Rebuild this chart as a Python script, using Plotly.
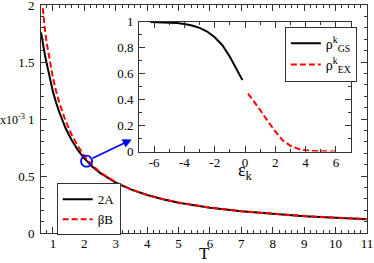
import plotly.graph_objects as go

# ---- main panel data ----
T_vals = [0.62, 0.66, 0.7, 0.75, 0.8, 0.9, 1.0, 1.1, 1.2, 1.4, 1.6, 1.8, 2.0, 2.25, 2.5,
          3.0, 3.5, 4.0, 4.5, 5.0, 6.0, 7.0, 8.0, 9.0, 10.0, 11.0]
two_A = [1.76, 1.69, 1.63, 1.553, 1.49, 1.355, 1.24, 1.145, 1.063, 0.921, 0.8125, 0.725,
         0.655, 0.584, 0.528, 0.442, 0.38, 0.333, 0.296, 0.266, 0.222, 0.19, 0.166,
         0.148, 0.133, 0.121]
beta_B = [2.13, 2.0, 1.89, 1.77, 1.67, 1.50, 1.36, 1.245, 1.145, 0.985, 0.86, 0.76,
          0.675, 0.594, 0.533, 0.445, 0.381, 0.334, 0.297, 0.267, 0.223, 0.191, 0.167,
          0.149, 0.134, 0.122]
marker_T = [2.07]
marker_val = [0.63]

# ---- inset data ----
eps_gs = [-6.25, -5.5, -5.0, -4.5, -4.0, -3.5, -3.0, -2.5, -2.0, -1.5, -1.0, -0.5, -0.17]
rho_gs = [0.998, 0.996, 0.993, 0.989, 0.982, 0.97, 0.952, 0.924, 0.88, 0.82, 0.73, 0.62, 0.55]
eps_ex = [0.2, 0.5, 1.0, 1.5, 2.0, 2.5, 3.0, 3.5, 4.0, 4.5, 5.0, 5.5, 6.1]
rho_ex = [0.446, 0.40, 0.32, 0.235, 0.155, 0.085, 0.045, 0.022, 0.01, 0.005, 0.002, 0.001, 0.0]

main_xticks = [1, 2, 3, 4, 5, 6, 7, 8, 9, 10, 11]
inset_xticks = [-6, -4, -2, 0, 2, 4, 6]
inset_xticktext = ["-6", "-4", "-2", "0", "2", "4", "6"]

FONT = "Liberation Serif"
AX = "#333333"

fig = go.Figure()
fig.add_trace(go.Scatter(x=T_vals, y=two_A, mode="lines", name="2A",
                         line=dict(color="black", width=2), legend="legend"))
fig.add_trace(go.Scatter(x=T_vals, y=beta_B, mode="lines", name="βB",
                         line=dict(color="#ff0000", width=2, dash="6px,3px"), legend="legend"))
fig.add_trace(go.Scatter(x=marker_T, y=marker_val, mode="markers", showlegend=False,
                         marker=dict(size=11, color="rgba(0,0,0,0)",
                                     line=dict(color="#0000ff", width=1.8))))
fig.add_trace(go.Scatter(x=eps_gs, y=rho_gs, mode="lines", name="ρ<sup>k</sup><sub>GS</sub>",
                         line=dict(color="black", width=2), xaxis="x2", yaxis="y2",
                         legend="legend2"))
fig.add_trace(go.Scatter(x=eps_ex, y=rho_ex, mode="lines", name="ρ<sup>k</sup><sub>EX</sub>",
                         line=dict(color="#ff0000", width=2, dash="6px,3px"), xaxis="x2",
                         yaxis="y2", legend="legend2"))

common = dict(showline=True, linecolor=AX, linewidth=1, mirror="allticks", ticks="inside",
              tickcolor=AX, ticklen=6, showgrid=False, zeroline=False, automargin=False,
              ticklabeloverflow="allow",
              tickfont=dict(family=FONT, size=13, color="black"))

fig.update_layout(
    width=374, height=263,
    margin=dict(l=41, r=7, t=5, b=30, autoexpand=False),
    paper_bgcolor="white", plot_bgcolor="white",
    font=dict(family=FONT, color="black"),
    xaxis=dict(range=[0.62, 11], tickvals=main_xticks, domain=[0, 1],
               minor=dict(dtick=0.2, tick0=0, ticks="inside", ticklen=3, tickcolor=AX),
               ticklabelstandoff=-2, **common),
    yaxis=dict(range=[0, 2], dtick=0.5, domain=[0, 1],
               minor=dict(dtick=0.1, tick0=0, ticks="inside", ticklen=3, tickcolor=AX),
               ticklabelstandoff=3, **common),
    xaxis2=dict(range=[-7, 7], tickvals=inset_xticks, ticktext=inset_xticktext,
                domain=[0.3006, 0.951], anchor="y2",
                minor=dict(dtick=1, tick0=0, ticks="inside", ticklen=3, tickcolor=AX),
                ticklabelstandoff=-1, **common),
    yaxis2=dict(range=[0, 1], dtick=0.2, domain=[0.357, 0.927], anchor="x2",
                minor=dict(dtick=0.1, tick0=0, ticks="inside", ticklen=3, tickcolor=AX),
                ticklabelstandoff=2, **common),
    legend=dict(x=0.048, y=0.218, xanchor="left", yanchor="top",
                bordercolor=AX, borderwidth=1, bgcolor="white",
                font=dict(family=FONT, size=13), tracegroupgap=0,
                itemwidth=30),
    legend2=dict(x=0.748, y=0.905, xanchor="left", yanchor="top",
                 bordercolor=AX, borderwidth=1, bgcolor="white",
                 font=dict(family=FONT, size=14), itemwidth=30),
    showlegend=True,
)

fig.add_annotation(x=3.51, y=0.82, ax=2.07, ay=0.63, xref="x", yref="y", axref="x", ayref="y",
                   showarrow=True, arrowhead=2, arrowsize=1, arrowwidth=1.8,
                   arrowcolor="#0000ff", startstandoff=5, text="")
fig.add_annotation(x=-0.043, y=1.0, xref="paper", yref="y", xanchor="right", yanchor="middle",
                   text="x10<sup>-3</sup>", showarrow=False,
                   font=dict(family=FONT, size=12, color="black"))
fig.add_annotation(x=0.5, y=-0.088, xref="paper", yref="paper", xanchor="center",
                   yanchor="middle", text="T", showarrow=False,
                   font=dict(family=FONT, size=17, color="black"))
fig.add_annotation(x=0, y=0.268, xref="x2", yref="paper", xanchor="center",
                   yanchor="middle", text="ε<sub>k</sub>", showarrow=False,
                   font=dict(family=FONT, size=18, color="black"))

fig.write_html("out.html", config={"displayModeBar": False},
               post_script="document.body.style.margin='0';document.body.style.overflow='hidden';")
